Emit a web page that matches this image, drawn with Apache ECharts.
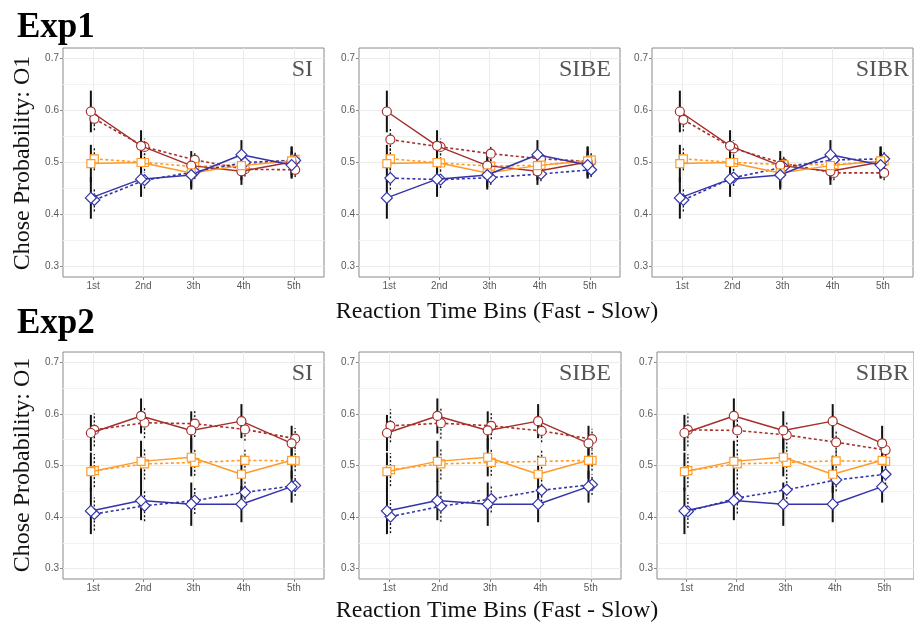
<!DOCTYPE html>
<html>
<head>
<meta charset="utf-8">
<script src="https://cdn.jsdelivr.net/npm/echarts@6/dist/echarts.min.js"></script>
<style>html,body{margin:0;padding:0;background:#fff;}#c{width:914px;height:625px;}</style>
</head>
<body>
<div id="c"></div>
<script>
// ---------- data ----------
const categories = ['1st', '2nd', '3th', '4th', '5th'];
const yTicks = [0.3, 0.4, 0.5, 0.6, 0.7];
const yMinorTicks = [0.35, 0.45, 0.55, 0.65];
const panelNames = ['SI', 'SIBE', 'SIBR'];

// Exp1 observed (same in all panels)
const e1ObsRed = [0.598, 0.532, 0.494, 0.483, 0.501];
const e1ObsRedSE = [0.040, 0.030, 0.028, 0.026, 0.030];
const e1ObsOrange = [0.498, 0.500, 0.480, 0.494, 0.503];
const e1ObsOrangeSE = [0.036, 0.032, 0.028, 0.028, 0.027];
const e1ObsBlue = [0.432, 0.468, 0.476, 0.515, 0.495];
const e1ObsBlueSE = [0.040, 0.034, 0.028, 0.028, 0.026];
const e1ModelSE = [0.022, 0.016, 0.014, 0.014, 0.014];

// Exp1 model predictions
const e1SIRed = [0.584, 0.530, 0.505, 0.487, 0.486];
const e1SIOrange = [0.507, 0.500, 0.492, 0.496, 0.506];
const e1SIBlue = [0.428, 0.466, 0.482, 0.500, 0.504];
const e1SIBERed = [0.544, 0.530, 0.517, 0.507, 0.502];
const e1SIBEOrange = [0.507, 0.499, 0.493, 0.495, 0.505];
const e1SIBEBlue = [0.470, 0.467, 0.471, 0.478, 0.486];
const e1SIBRRed = [0.582, 0.527, 0.498, 0.480, 0.480];
const e1SIBROrange = [0.507, 0.500, 0.496, 0.496, 0.503];
const e1SIBRBlue = [0.428, 0.471, 0.491, 0.505, 0.507];

// Exp2 observed
const e2ObsRed = [0.563, 0.596, 0.568, 0.586, 0.543];
const e2ObsRedSE = [0.035, 0.034, 0.037, 0.033, 0.034];
const e2ObsOrange = [0.488, 0.508, 0.516, 0.483, 0.510];
const e2ObsOrangeSE = [0.037, 0.040, 0.037, 0.036, 0.035];
const e2ObsBlue = [0.412, 0.432, 0.425, 0.425, 0.459];
const e2ObsBlueSE = [0.045, 0.038, 0.042, 0.035, 0.031];
const e2ModelSE = [0.032, 0.030, 0.026, 0.022, 0.020];

// Exp2 model predictions
const e2SIRed = [0.569, 0.583, 0.581, 0.570, 0.552];
const e2SIOrange = [0.490, 0.503, 0.506, 0.510, 0.509];
const e2SIBlue = [0.406, 0.422, 0.432, 0.448, 0.461];
const e2SIBERed = [0.577, 0.582, 0.577, 0.567, 0.551];
const e2SIBEOrange = [0.492, 0.503, 0.506, 0.508, 0.510];
const e2SIBEBlue = [0.401, 0.421, 0.435, 0.452, 0.463];
const e2SIBRRed = [0.569, 0.568, 0.559, 0.545, 0.530];
const e2SIBROrange = [0.490, 0.503, 0.506, 0.509, 0.508];
const e2SIBRBlue = [0.411, 0.437, 0.453, 0.472, 0.483];

// ---------- styling ----------
const RED = '#a5302c', ORANGE = '#ff9b2a', BLUE = '#3434aa';
const OBS_DODGE = -0.045, MOD_DODGE = 0.025;

const grids = [
  {left: 63, top: 48, width: 261, height: 229},
  {left: 359, top: 48, width: 261, height: 229},
  {left: 652, top: 48, width: 261, height: 229},
  {left: 63, top: 352, width: 261, height: 227},
  {left: 359, top: 352, width: 262, height: 227},
  {left: 657, top: 352, width: 262, height: 227}
];

const exps = [
  {
    obs: [[e1ObsRed, e1ObsRedSE], [e1ObsOrange, e1ObsOrangeSE], [e1ObsBlue, e1ObsBlueSE]],
    modSE: e1ModelSE,
    models: [[e1SIRed, e1SIOrange, e1SIBlue], [e1SIBERed, e1SIBEOrange, e1SIBEBlue], [e1SIBRRed, e1SIBROrange, e1SIBRBlue]]
  },
  {
    obs: [[e2ObsRed, e2ObsRedSE], [e2ObsOrange, e2ObsOrangeSE], [e2ObsBlue, e2ObsBlueSE]],
    modSE: e2ModelSE,
    models: [[e2SIRed, e2SIOrange, e2SIBlue], [e2SIBERed, e2SIBEOrange, e2SIBEBlue], [e2SIBRRed, e2SIBROrange, e2SIBRBlue]]
  }
];
const colors = [RED, ORANGE, BLUE];
const symbols = ['circle', 'rect', 'diamond'];
const symSizes = [9, 8, 11];

const gridOpt = [], xAxes = [], yAxes = [], series = [];

function errRender(width, dash) {
  return function (params, api) {
    const x = api.value(0), lo = api.value(1), hi = api.value(2);
    const p1 = api.coord([x, lo]), p2 = api.coord([x, hi]);
    return {
      type: 'line',
      shape: {x1: p1[0], y1: p1[1], x2: p2[0], y2: p2[1]},
      style: {stroke: '#111', lineWidth: width, lineDash: dash}
    };
  };
}

grids.forEach((g, gi) => {
  gridOpt.push(Object.assign({show: true, borderColor: '#8a8a8a', borderWidth: 1, backgroundColor: 'transparent'}, g));
  xAxes.push({
    type: 'value', gridIndex: gi, min: 0.4, max: 5.6,
    axisLine: {show: false},
    axisTick: {show: true, length: 3, lineStyle: {color: '#8a8a8a'}, customValues: [1, 2, 3, 4, 5]},
    axisLabel: {
      customValues: [1, 2, 3, 4, 5], margin: 4, color: '#5a5a5a', fontSize: 10,
      fontFamily: 'Liberation Sans',
      formatter: v => categories[Math.round(v) - 1]
    },
    splitLine: {show: true, lineStyle: {color: '#ebebeb', width: 1}}
  });
  yAxes.push({
    type: 'value', gridIndex: gi, min: 0.28, max: 0.72,
    axisLine: {show: false},
    axisTick: {show: true, length: 3, lineStyle: {color: '#8a8a8a'}, customValues: yTicks},
    axisLabel: {
      customValues: yTicks, margin: 4, color: '#5a5a5a', fontSize: 10,
      fontFamily: 'Liberation Sans', formatter: v => v.toFixed(1)
    },
    splitLine: {show: true, lineStyle: {color: '#ebebeb', width: 1}}
  });
  yAxes.push({
    type: 'value', gridIndex: gi, min: 0.28, max: 0.72, position: 'left',
    axisLine: {show: false},
    axisTick: {show: false, customValues: yMinorTicks},
    axisLabel: {show: false, customValues: yMinorTicks},
    splitLine: {show: true, lineStyle: {color: '#f2f2f2', width: 1}}
  });

  const exp = exps[Math.floor(gi / 3)];
  const pi = gi % 3;
  const yIdx = gi * 2;

  // error bars: observed (solid) and model (dashed)
  const obsErr = [], modErr = [];
  exp.obs.forEach(([vals, se], si) => {
    vals.forEach((v, i) => obsErr.push([i + 1 + OBS_DODGE, v - se[i], v + se[i]]));
    exp.models[pi][si].forEach((v, i) => modErr.push([i + 1 + MOD_DODGE, v - exp.modSE[i], v + exp.modSE[i]]));
  });
  series.push({
    type: 'custom', xAxisIndex: gi, yAxisIndex: yIdx, renderItem: errRender(1.3, [2, 2]),
    encode: {x: 0, y: [1, 2]}, data: modErr, silent: true, z: 1
  });
  series.push({
    type: 'custom', xAxisIndex: gi, yAxisIndex: yIdx, renderItem: errRender(2, null),
    encode: {x: 0, y: [1, 2]}, data: obsErr, silent: true, z: 1
  });

  // model lines (dotted)
  exp.models[pi].forEach((vals, si) => {
    series.push({
      type: 'line', xAxisIndex: gi, yAxisIndex: yIdx, z: 2,
      data: vals.map((v, i) => [i + 1 + MOD_DODGE, v]),
      symbol: symbols[si], symbolSize: symSizes[si], showSymbol: true,
      lineStyle: {color: colors[si], width: 1.6, type: [3, 2.5]},
      itemStyle: {color: '#fff', borderColor: colors[si], borderWidth: 1.2},
      animation: false
    });
  });
  // observed lines (solid)
  exp.obs.forEach(([vals], si) => {
    series.push({
      type: 'line', xAxisIndex: gi, yAxisIndex: yIdx, z: 3,
      data: vals.map((v, i) => [i + 1 + OBS_DODGE, v]),
      symbol: symbols[si], symbolSize: symSizes[si], showSymbol: true,
      lineStyle: {color: colors[si], width: 1.5},
      itemStyle: {color: '#fff', borderColor: colors[si], borderWidth: 1.2},
      animation: false
    });
  });
});

const serif = '"Liberation Serif", "Times New Roman", serif';
function txt(text, x, y, font, fill, align, extra) {
  return Object.assign({
    type: 'text', x: x, y: y, z: 100,
    style: {text: text, font: font, fill: fill, align: align, textAlign: align, verticalAlign: 'middle', textVerticalAlign: 'middle'}
  }, extra || {});
}
const graphics = [
  txt('Exp1', 17, 28, 'bold 35px ' + serif, '#000', 'left'),
  txt('Exp2', 17, 324, 'bold 35px ' + serif, '#000', 'left'),
  txt('Reaction Time Bins (Fast - Slow)', 497, 312, '24px ' + serif, '#111', 'center'),
  txt('Reaction Time Bins (Fast - Slow)', 497, 611, '24px ' + serif, '#111', 'center'),
  txt('Chose Probability: O1', 23, 163, '24px ' + serif, '#111', 'center', {rotation: Math.PI / 2}),
  txt('Chose Probability: O1', 23, 465, '24px ' + serif, '#111', 'center', {rotation: Math.PI / 2})
];
const labelPos = [[313, 70], [611, 70], [909, 70], [313, 374], [611, 374], [909, 374]];
labelPos.forEach((p, i) => {
  graphics.push(txt(panelNames[i % 3], p[0], p[1], '24px ' + serif, '#555', 'right'));
});

const chart = echarts.init(document.getElementById('c'), null, {renderer: 'canvas'});
chart.setOption({
  animation: false,
  grid: gridOpt,
  xAxis: xAxes,
  yAxis: yAxes,
  series: series,
  graphic: graphics
});
</script>
</body>
</html>
